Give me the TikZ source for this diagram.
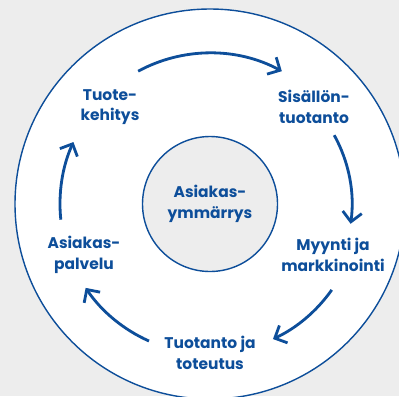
\documentclass[tikz,border=0pt]{standalone}
\usepackage{fontspec}
\setmainfont{Poppins}
\usepackage{tikz}
\usetikzlibrary{arrows.meta,positioning,calc}
\definecolor{cback}{HTML}{EDEDED}
\definecolor{cring}{HTML}{FFFFFF}
\definecolor{ccore}{HTML}{EDEDED}
\definecolor{cblue}{HTML}{0D4E9A}

\begin{document}
\begin{tikzpicture}[
    x=0.025cm, y=0.025cm,
    lbl/.style={text=cblue, align=center, inner sep=0pt,
                font=\fontsize{11}{14.5}\selectfont\bfseries},
    ring/.style={draw=cblue, fill=cring, line width=1pt},
    core/.style={circle, draw=cblue, fill=ccore, line width=1pt,
                 minimum size=135*0.025cm, inner sep=0pt},
    arr/.style={-{Straight Barb[length=2.4mm,width=4.8mm]}, line width=2pt, draw=cblue}
]
\useasboundingbox[fill=cback] (0,0) rectangle (399,-396);

\coordinate (mid) at (210,-204);
\draw[ring] (mid) circle[radius=195];
\node[core] (hub) at (mid) {};
\node[lbl] (cust) at (hub) {Asiakas-\\ymmärrys};

\node[lbl] (dev)   at (110,-107) {Tuote-\\kehitys};
\node[lbl] (cont)  at (314,-107) {Sisällön-\\tuotanto};
\node[lbl] (sales) at (333,-255) {Myynti ja\\markkinointi};
\node[lbl] (prod)  at (210,-353) {Tuotanto ja\\toteutus};
\node[lbl] (serv)  at (84,-255)  {Asiakas-\\palvelu};

\coordinate (a1) at ($(hub)+(118.4:151)$);
\coordinate (a2) at ($(hub)+(29:142)$);
\coordinate (a3) at ($(hub)+(-35.2:149)$);
\coordinate (a4) at ($(hub)+(-114:150)$);
\coordinate (a5) at ($(hub)+(186:150)$);

\draw[arr] (a1) arc[start angle=118.4, end angle=61.6, radius=151];
\draw[arr] (a2) arc[start angle=29, end angle=-8, radius=142];
\draw[arr] (a3) arc[start angle=-35.2, end angle=-65, radius=149];
\draw[arr] (a4) arc[start angle=-114, end angle=-146, radius=150];
\draw[arr] (a5) arc[start angle=186, end angle=155.6, radius=150];
\end{tikzpicture}
\end{document}
